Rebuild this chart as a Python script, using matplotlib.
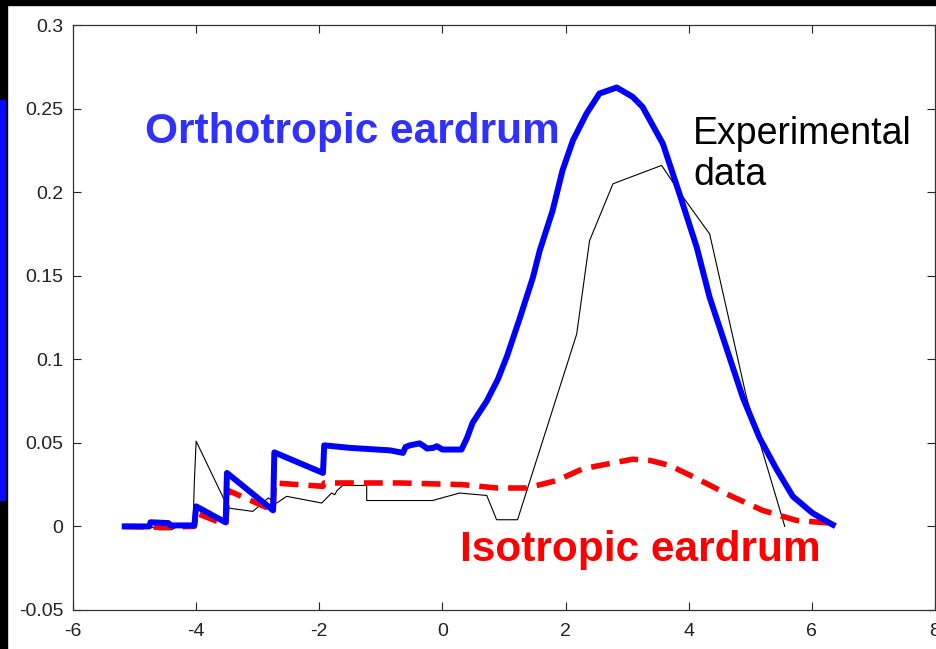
import numpy as np
import matplotlib
matplotlib.use('Agg')
from matplotlib import pyplot as plt
from matplotlib.patches import Rectangle

# orthotropic eardrum model (blue)
ortho_x = [-5.16, -4.76, -4.74, -4.45, -4.42, -4.21, -4.03, -4.0, -3.52, -3.5, -2.75, -2.73,
           -1.94, -1.92, -1.5, -0.85, -0.64, -0.6, -0.53, -0.37, -0.3, -0.25, -0.15, -0.09,
           0.0, 0.31, 0.4, 0.49, 0.72, 0.9, 1.05, 1.26, 1.47, 1.58, 1.79, 1.95, 2.12, 2.34, 2.55,
           2.83, 3.09, 3.25, 3.58, 3.85, 4.13, 4.34, 4.61, 4.88, 5.15, 5.43, 5.69, 6.01, 6.29, 6.34]
ortho_y = [0.0, 0.0, 0.0025, 0.002, 0.0006, 0.0006, 0.0006, 0.012, 0.0024, 0.032, 0.0096, 0.0443,
           0.032, 0.0485, 0.047, 0.0455, 0.044, 0.0475, 0.0485, 0.0497, 0.048, 0.0466, 0.047, 0.048,
           0.046, 0.046, 0.053, 0.062, 0.075, 0.088, 0.102, 0.125, 0.149, 0.165, 0.189, 0.213, 0.231, 0.247, 0.259,
           0.2626, 0.257, 0.251, 0.229, 0.199, 0.167, 0.137, 0.107, 0.077, 0.053, 0.034, 0.018, 0.008, 0.002, 0.001]

# isotropic eardrum model (red dashed)
iso_x = [-5.16, -4.6, -4.03, -4.0, -3.52, -3.48, -2.75, -2.73, -1.94, -1.92, -0.69, 0.33, 0.88,
         1.37, 1.86, 2.28, 2.77, 3.09, 3.37, 3.69, 4.13, 4.67, 5.2, 5.75, 6.29, 6.34]
iso_y = [0.0, -0.0005, 0.0, 0.008, 0.001, 0.0215, 0.0096, 0.026, 0.024, 0.026, 0.026, 0.025, 0.023,
         0.023, 0.0275, 0.0345, 0.038, 0.0402, 0.0395, 0.0365, 0.0287, 0.0185, 0.0096, 0.0036, 0.002, 0.001]

# experimental data (thin black)
exp_x = [-4.75, -4.6, -4.4, -4.3, -4.05, -4.03, -4.0, -3.57, -3.48, -3.08, -2.92, -2.83, -2.69,
         -2.53, -1.96, -1.8, -1.75, -1.71, -1.62, -1.23, -1.23, -0.16, 0.28, 0.72, 0.88, 1.22,
         2.18, 2.39, 2.77, 3.56, 3.85, 4.34, 4.94, 5.56]
exp_y = [0.0, -0.002, -0.002, 0.0, 0.0, 0.026, 0.051, 0.018, 0.011, 0.009, 0.014, 0.017, 0.014,
         0.018, 0.014, 0.02, 0.019, 0.0215, 0.0245, 0.0245, 0.0155, 0.0155, 0.020, 0.0185, 0.004, 0.004,
         0.115, 0.171, 0.205, 0.216, 0.200, 0.175, 0.077, 0.0]

x_ticks = [-6, -4, -2, 0, 2, 4, 6, 8]
y_ticks = [-0.05, 0, 0.05, 0.1, 0.15, 0.2, 0.25, 0.3]
y_tick_labels = ['-0.05', '0', '0.05', '0.1', '0.15', '0.2', '0.25', '0.3']

plt.rcParams['font.family'] = ['Liberation Sans', 'DejaVu Sans']

W, H = 936, 649
fig = plt.figure(figsize=(W / 100, H / 100), dpi=100, facecolor='white')

# slide frame: black strips and blue bar on the left
fig.add_artist(Rectangle((0, 1 - 5 / H), 1, 5 / H, transform=fig.transFigure, color='black', zorder=0))
fig.add_artist(Rectangle((0, 0), 7 / W, 1, transform=fig.transFigure, color='black', zorder=0))
fig.add_artist(Rectangle((0, (H - 500) / H), 5 / W, 400 / H, transform=fig.transFigure,
                         color='#0a0aff', zorder=1))

ax = fig.add_axes([73 / W, (H - 610) / H, 862 / W, 585 / H])
ax.plot(exp_x, exp_y, color='black', lw=0.8, zorder=2)
ax.plot(iso_x, iso_y, color='#ff0000', lw=4, dashes=(3.4, 1.8), zorder=3)
ax.plot(ortho_x, ortho_y, color='#0000ff', lw=4.3, zorder=4)

ax.set_xlim(-6, 8)
ax.set_ylim(-0.05, 0.3)
ax.set_xticks(x_ticks)
ax.set_xticklabels([str(v) for v in x_ticks])
ax.set_yticks(y_ticks)
ax.set_yticklabels(y_tick_labels)
ax.tick_params(direction='in', length=6, width=0.8, top=True, right=True,
               labelsize=14, colors='#222222')
ax.tick_params(axis='x', pad=9)
ax.tick_params(axis='y', pad=7)
for s in ax.spines.values():
    s.set_linewidth(0.9)
    s.set_color('#333333')

ax.text(-4.83, 0.236, 'Orthotropic eardrum', color='#3030ff', fontsize=30.5,
        fontweight='bold', ha='left', va='center')
ax.text(0.28, -0.0144, 'Isotropic eardrum', color='#ff0000', fontsize=30.5,
        fontweight='bold', ha='left', va='center')
ax.text(4.07, 0.2225, 'Experimental\ndata', color='black', fontsize=27,
        ha='left', va='center', linespacing=1.2)

fig.savefig('out.png', dpi=100, facecolor='white')
